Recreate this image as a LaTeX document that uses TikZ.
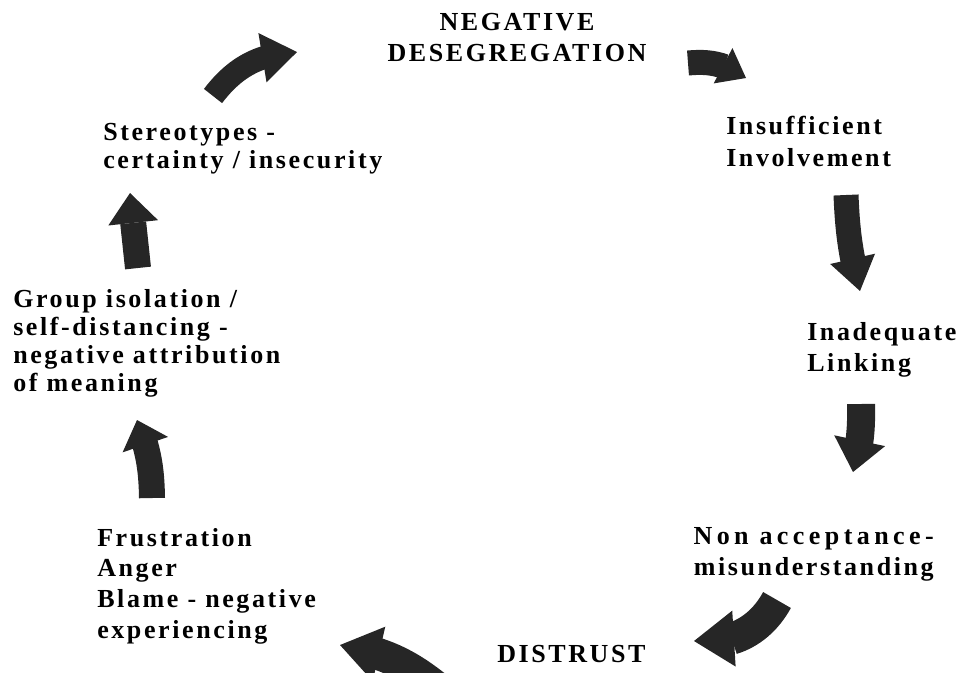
\documentclass[tikz,border=0pt]{standalone}
\usepackage{fontspec}
\setmainfont{Liberation Serif}[LetterSpace=10, Ligatures=NoCommon]
\usepackage{tikz}
\usetikzlibrary{arrows.meta, bending}

\begin{document}
\begin{tikzpicture}[
    x=0.75pt, y=-0.75pt,
    label/.style={inner sep=0pt, anchor=north west, align=left,
                  font=\fontsize{19.5}{23}\selectfont\bfseries},
    tight/.style={font=\fontsize{19.5}{21}\selectfont\bfseries},
    loose/.style={font=\fontsize{19.5}{23.6}\selectfont\bfseries},
    block/.style={line width=#1*0.75pt, draw=black!85},
    tip/.style n args={2}{-{Triangle[length=#1*0.75pt, width=#2*0.75pt,
                  line width=0pt, fill=black!85, color=black!85]}},
]
\path[use as bounding box, clip] (0,0) rectangle (966,672);

% labels round the cycle
\node[label, loose, align=center, anchor=north] (negdeseg) at (517,13) {NEGATIVE\\DESEGREGATION};
\node[label, loose] (insuff) at (726,116) {Insufficient\\Involvement};
\node[label, loose] (linking) at (807,322) {Inadequate\\Linking};
\node[label, loose, align=right, anchor=north east] (nonaccept) at (934,527)
    {{\addfontfeature{LetterSpace=17}Non acceptance-}\\misunderstanding};
\node[label] (distrust) at (497,645) {DISTRUST};
\node[label] (frustr) at (97,528) {Frustration\\Anger\\Blame - negative\\experiencing};
\node[label, tight] (isolation) at (13,289) {Group isolation /\\self-distancing -\\negative attribution\\of meaning};
\node[label, tight] (stereo) at (103,123) {Stereotypes -\\certainty / insecurity};

% block arrows
\coordinate (a1s) at (213,96);  \coordinate (a1e) at (297,52);
\coordinate (a2s) at (688,63);  \coordinate (a2e) at (746,78);
\coordinate (a3s) at (846,195); \coordinate (a3e) at (860,291);
\coordinate (a4s) at (861,404); \coordinate (a4e) at (853,472);
\coordinate (a5s) at (777,600); \coordinate (a5e) at (694,641);
\coordinate (a6s) at (440,690); \coordinate (a6e) at (340,645);
\coordinate (a7s) at (152,498); \coordinate (a7e) at (137,420);
\coordinate (a8s) at (138,268); \coordinate (a8e) at (130,193);

\draw[block=23, tip={35}{50}] (a1s) to[bend left=25] (a1e);
\draw[block=25, tip={26}{40}] (a2s) to[bend left=20] (a2e);
\draw[block=25, tip={33}{46}] (a3s) to[bend right=6] (a3e);
\draw[block=28, tip={32}{52}] (a4s) to[bend left=8] (a4e);
\draw[block=32, tip={40}{56}] (a5s) to[bend left=35] (a5e);
\draw[block=32, tip={40}{56}] (a6s) to[bend right=15] (a6e);
\draw[block=26, tip={26}{48}] (a7s) to[bend right=10] (a7e);
\draw[block=26, tip={30}{50}] (a8s) to (a8e);
\end{tikzpicture}
\end{document}
